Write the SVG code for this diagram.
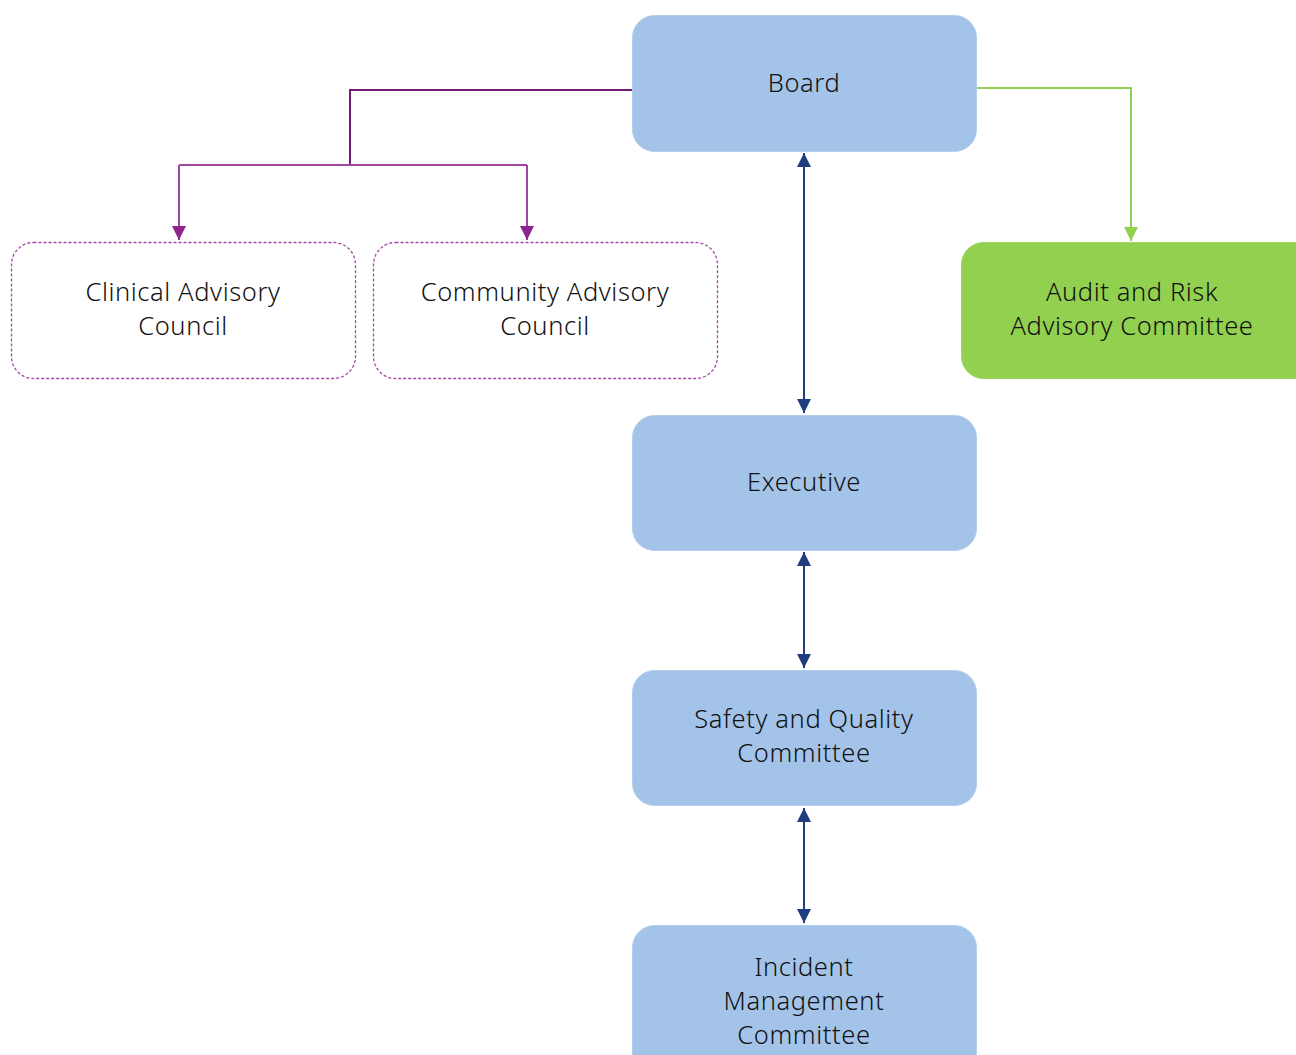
<svg xmlns="http://www.w3.org/2000/svg" width="1296" height="1055" viewBox="0 0 1296 1055">
<defs>
<marker id="ag" markerWidth="16" markerHeight="16" viewBox="0 0 16 16" refX="14" refY="8" orient="auto" markerUnits="userSpaceOnUse"><path d="M0,1 L14,8 L0,15 Z" fill="#92d050"/></marker>
<marker id="ab" markerWidth="16" markerHeight="16" viewBox="0 0 16 16" refX="14" refY="8" orient="auto-start-reverse" markerUnits="userSpaceOnUse"><path d="M0,1 L14,8 L0,15 Z" fill="#1f3d7f"/></marker>
<marker id="app" markerWidth="16" markerHeight="16" viewBox="0 0 16 16" refX="14" refY="8" orient="auto" markerUnits="userSpaceOnUse"><path d="M0,1 L14,8 L0,15 Z" fill="#8e258e"/></marker>
</defs>
<style>
.blue{fill:#a3c4e8;stroke:#b3cfee;stroke-width:1}
.adv{fill:#ffffff;stroke:#a648a6;stroke-width:1.3;stroke-dasharray:3 2}
.green{fill:#92d050;stroke:#9ed860;stroke-width:1}
text{font-family:"Noto Sans","Liberation Sans",sans-serif;font-size:25.5px;font-weight:300;fill:#111111;text-anchor:middle;letter-spacing:0.6px}
.c{fill:none;stroke-width:2}
</style>
<g id="connectors">
<path class="c" d="M632,90 H350 V165" stroke="#761c76"/>
<path class="c" d="M179,165 H527" stroke="#a146a1"/>
<path class="c" d="M179,165 V240" stroke="#a146a1" marker-end="url(#app)"/>
<path class="c" d="M527,165 V240" stroke="#a146a1" marker-end="url(#app)"/>
<path class="c" d="M976,88 H1131 V241" stroke="#92d050" marker-end="url(#ag)"/>
<path class="c" d="M804,153 V413" stroke="#1f3d7f" marker-start="url(#ab)" marker-end="url(#ab)"/>
<path class="c" d="M804,552 V668" stroke="#1f3d7f" marker-start="url(#ab)" marker-end="url(#ab)"/>
<path class="c" d="M804,808 V923" stroke="#1f3d7f" marker-start="url(#ab)" marker-end="url(#ab)"/>
</g>
<g id="board"><rect class="blue" x="632.5" y="15.5" width="344" height="136" rx="22"/><text x="804" y="92">Board</text></g>
<g id="clinical"><rect class="adv" x="11.5" y="242.5" width="344" height="136" rx="22"/><text x="183" y="301">Clinical Advisory</text><text x="183" y="335">Council</text></g>
<g id="community"><rect class="adv" x="373.5" y="242.5" width="344" height="136" rx="22"/><text x="545" y="301">Community Advisory</text><text x="545" y="335">Council</text></g>
<g id="audit"><rect class="green" x="961.5" y="242.5" width="360" height="136" rx="22"/><text x="1132" y="301">Audit and Risk</text><text x="1132" y="335">Advisory Committee</text></g>
<g id="executive"><rect class="blue" x="632.5" y="415.5" width="344" height="135" rx="22"/><text x="804" y="491">Executive</text></g>
<g id="safety"><rect class="blue" x="632.5" y="670.5" width="344" height="135" rx="22"/><text x="804" y="728">Safety and Quality</text><text x="804" y="762">Committee</text></g>
<g id="incident"><rect class="blue" x="632.5" y="925.5" width="344" height="150" rx="22"/><text x="804" y="976">Incident</text><text x="804" y="1010">Management</text><text x="804" y="1044">Committee</text></g>
</svg>
